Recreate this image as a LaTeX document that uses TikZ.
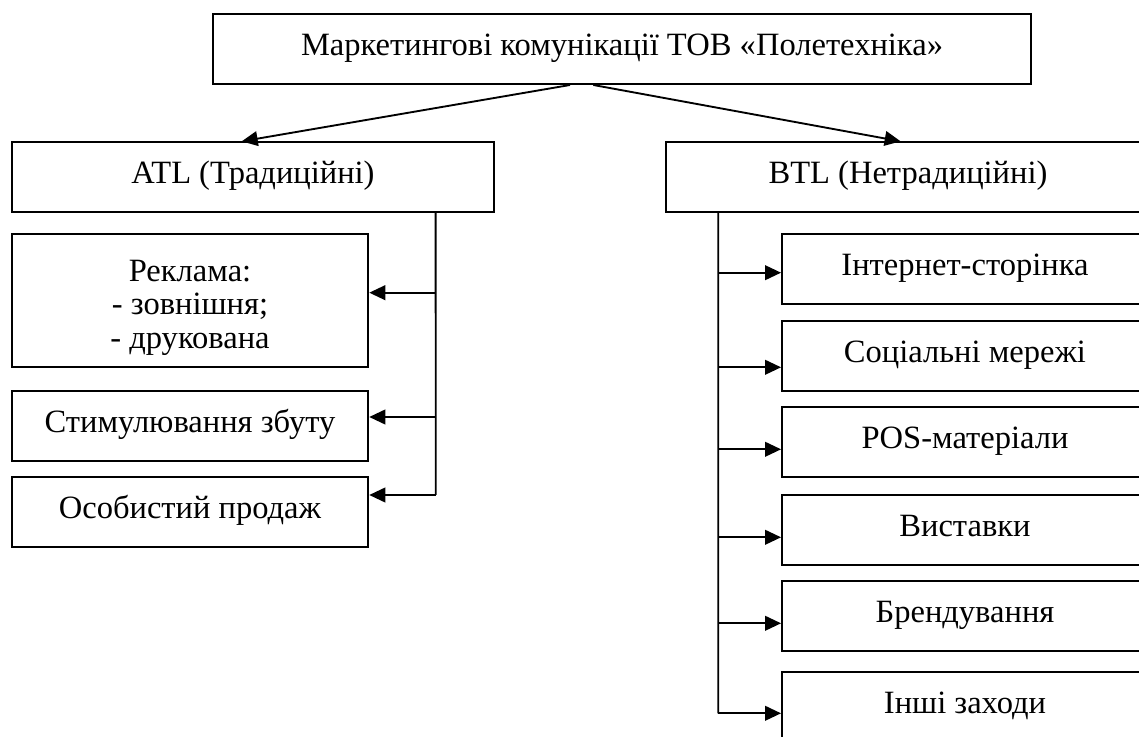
\documentclass[tikz,border=0pt]{standalone}
\usepackage{fontspec}
\setmainfont{Liberation Serif}
\usetikzlibrary{arrows.meta}
\begin{document}
\begin{tikzpicture}[x=0.75pt, y=-0.75pt,
    cell/.style={draw, line width=1.4pt, inner sep=0pt, minimum height=52.5pt,
      font=\fontsize{24.4pt}{24.8pt}\selectfont},
    box/.style={cell, text height=16.5pt, text depth=6.5pt},
    link/.style={line width=1.4pt},
    arr/.style={link, -{Triangle[length=12pt, width=11pt]}}]
    \useasboundingbox (0,0) rectangle (1139,737);
    \clip (0,0) rectangle (1139,737);
    \node[box, minimum width=613pt, minimum height=52.3pt] (top) at (622,49.2) {Маркетингові комунікації ТОВ «Полетехніка»};
    \node[box, minimum width=362pt] (atl) at (253,177.3) {ATL (Традиційні)};
    \node[box, minimum width=363pt] (btl) at (908,177.3) {BTL (Нетрадиційні)};
    \draw[arr] ([xshift=-39pt]top.south) -- ([xshift=-8.5pt]atl.north);
    \draw[arr] ([xshift=-21.5pt]top.south) -- ([xshift=-5.5pt]btl.north);
    \node[cell, minimum width=267.5pt, minimum height=99.3pt, align=center] (reklama) at (190,300.5) {\rule{0pt}{27pt}Реклама:\\- зовнішня;\\- друкована};
    \node[box, minimum width=267.5pt] (stym) at (190,425.7) {Стимулювання збуту};
    \node[box, minimum width=267.5pt] (prodazh) at (190,512.2) {Особистий продаж};
    \coordinate (lt) at ([xshift=137pt]atl.south);
    \coordinate (l1) at (435.7,292.7);
    \coordinate (l2) at (435.7,417);
    \coordinate (l3) at (435.7,495);
    \draw[link] (lt) -- (l3);
    \draw[arr] (l1) -- (l1 -| reklama.east);
    \draw[arr] (l2) -- (l2 -| stym.east);
    \draw[arr] (l3) -- (l3 -| prodazh.east);
    \node[box, minimum width=274.5pt] (internet) at (965,269.3) {Інтернет-сторінка};
    \node[box, minimum width=274.5pt] (merezhi) at (965,355.9) {Соціальні мережі};
    \node[box, minimum width=274.5pt] (pos) at (965,442.2) {POS-матеріали};
    \node[box, minimum width=274.5pt] (vystavky) at (965,530) {Виставки};
    \node[box, minimum width=274.5pt] (brend) at (965,616) {Брендування};
    \node[box, minimum width=274.5pt] (inshi) at (965,706.7) {Інші заходи};
    \coordinate (rt) at ([xshift=-142.3pt]btl.south);
    \coordinate (r1) at (718.3,272.7);
    \coordinate (r2) at (718.3,367.3);
    \coordinate (r3) at (718.3,449.3);
    \coordinate (r4) at (718.3,537.3);
    \coordinate (r5) at (718.3,623.3);
    \coordinate (r6) at (718.3,713.3);
    \draw[link] (rt) -- (r6);
    \draw[arr] (r1) -- (r1 -| internet.west);
    \draw[arr] (r2) -- (r2 -| merezhi.west);
    \draw[arr] (r3) -- (r3 -| pos.west);
    \draw[arr] (r4) -- (r4 -| vystavky.west);
    \draw[arr] (r5) -- (r5 -| brend.west);
    \draw[arr] (r6) -- (r6 -| inshi.west);
  \end{tikzpicture}
\end{document}
